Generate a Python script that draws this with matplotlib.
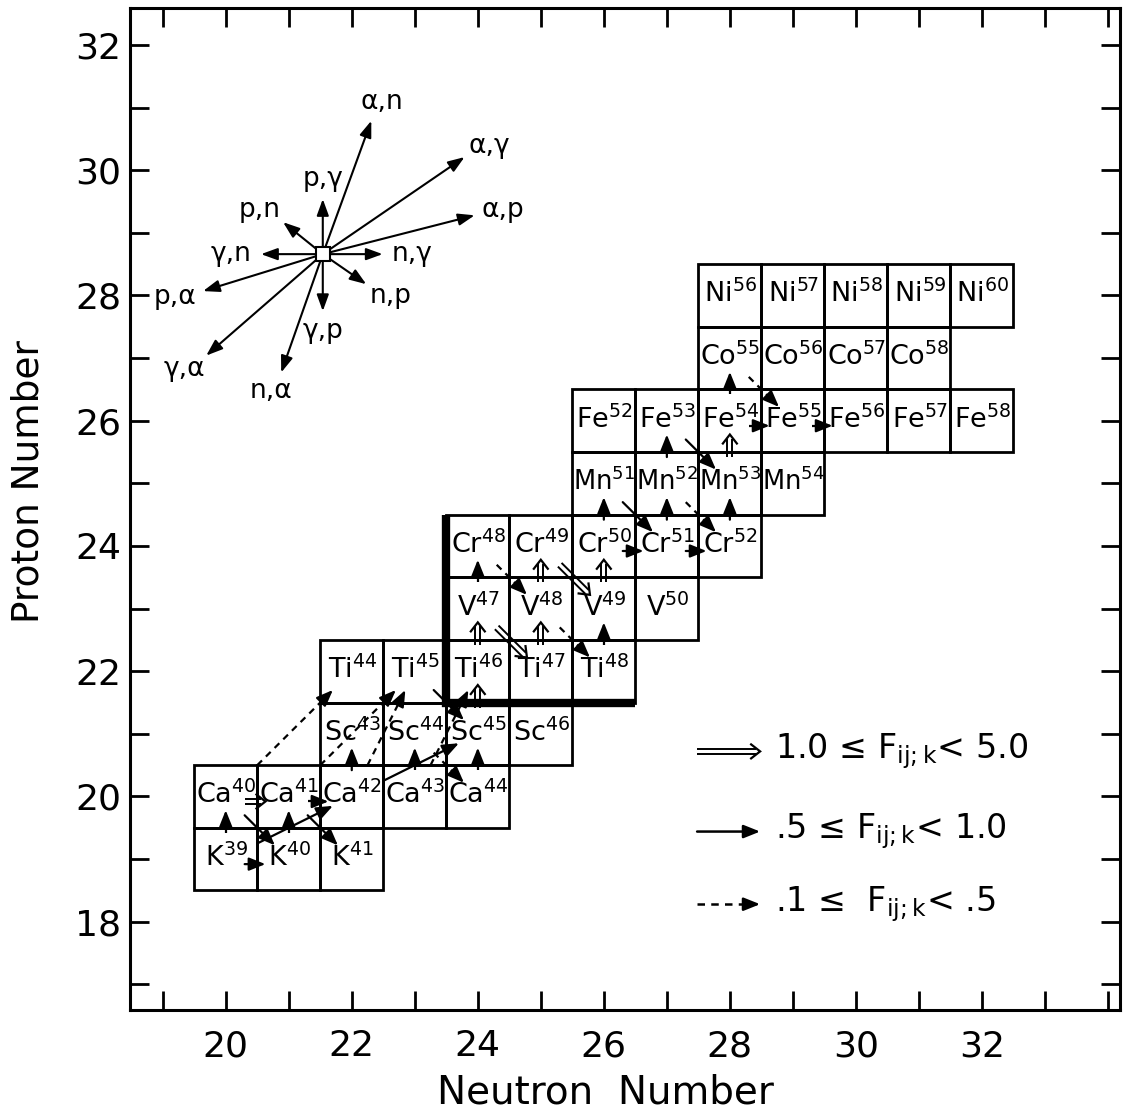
import matplotlib
matplotlib.use("Agg")
import matplotlib.pyplot as plt
import numpy as np
from matplotlib.patches import Rectangle
from matplotlib.ticker import FixedLocator, MultipleLocator

# --- nuclides on the chart (one row per element) ---
ELEMENTS = ["K", "Ca", "Sc", "Ti", "V", "Cr", "Mn", "Fe", "Co", "Ni"]
PROTONS = [19, 20, 21, 22, 23, 24, 25, 26, 27, 28]
FIRST_N = [20, 20, 22, 22, 24, 24, 26, 26, 28, 28]
LAST_N = [22, 24, 25, 26, 27, 28, 29, 32, 31, 32]

# --- flows between nuclides: (N, Z) source -> (N, Z) target, strength class ---
FLOW_FROM = [(20, 19), (21, 19), (20, 19), (20, 20), (21, 20), (20, 19), (20, 20), (21, 20),
             (20, 20), (21, 20), (22, 20), (22, 20), (23, 20), (24, 20), (22, 20), (23, 21),
             (23, 22), (24, 21), (23, 20), (24, 22), (24, 23), (25, 22), (25, 23), (26, 22),
             (24, 23), (24, 24), (25, 23), (25, 24), (26, 23), (26, 24), (26, 24), (26, 25),
             (27, 24), (27, 24), (27, 25), (28, 24), (27, 25), (27, 26), (28, 25), (28, 26),
             (28, 27), (28, 26), (29, 26)]
FLOW_TO = [(20, 20), (21, 20), (21, 19), (21, 20), (22, 20), (22, 20), (21, 19), (22, 19),
           (22, 22), (23, 22), (23, 22), (22, 21), (23, 21), (24, 21), (24, 21), (24, 20),
           (24, 21), (24, 22), (24, 22), (24, 23), (25, 22), (25, 23), (26, 22), (26, 23),
           (24, 24), (25, 23), (25, 24), (26, 23), (26, 24), (26, 25), (27, 24), (27, 24),
           (27, 25), (28, 24), (28, 24), (28, 25), (27, 26), (28, 25), (28, 26), (28, 27),
           (29, 26), (29, 26), (30, 26)]
FLOW_KIND = ["dashed", "dashed", "solid", "double", "dashed", "solid", "solid", "solid",
             "dashed", "dashed", "dashed", "solid", "dashed", "dashed", "solid", "dashed",
             "solid", "double", "dashed", "double", "double", "double", "dashed", "dashed",
             "dashed", "dashed", "double", "double", "double", "solid", "solid", "solid",
             "solid", "solid", "dashed", "solid", "solid", "solid", "double", "dashed",
             "dashed", "dashed", "dashed"]

# --- reaction compass (tip offsets from the centre, in N/Z units) ---
COMPASS_CENTER = (21.54, 28.66)
COMPASS_LABELS = ["α,n", "α,γ", "α,p", "p,γ", "p,n", "γ,n", "n,γ", "n,p", "γ,p", "p,α", "γ,α", "n,α"]
COMPASS_DN = [0.77, 2.25, 2.41, 0.0, -0.63, -0.98, 0.95, 0.69, 0.0, -1.90, -1.85, -0.66]
COMPASS_DZ = [2.13, 1.55, 0.62, 0.88, 0.51, 0.0, 0.0, -0.48, -0.91, -0.59, -1.62, -1.89]

# --- legend ---
LEGEND_KINDS = ["double", "solid", "dashed"]
LEGEND_TEXT = [r"1.0 ≤ F$_{\mathregular{ij;k}}$< 5.0",
               r".5 ≤ F$_{\mathregular{ij;k}}$< 1.0",
               r".1 ≤  F$_{\mathregular{ij;k}}$< .5"]

# boundary of the quasi-equilibrium group
EDGE_N = [23.5, 23.5, 26.5]
EDGE_Z = [24.5, 21.5, 21.5]


def draw_arrow(ax, x0, y0, x1, y1, kind, lw=1.6):
    if kind == "double":
        # two parallel shafts plus an open chevron, built in pixel space
        fwd = ax.transData
        inv = fwd.inverted()
        p0 = fwd.transform((x0, y0))
        p1 = fwd.transform((x1, y1))
        u = (p1 - p0) / np.hypot(*(p1 - p0))
        perp = np.array([-u[1], u[0]])
        for s in (-1, 1):
            a = inv.transform(p0 + s * 2.6 * perp)
            b = inv.transform(p1 - 4 * u + s * 2.6 * perp)
            ax.plot([a[0], b[0]], [a[1], b[1]], color="black", lw=1.4,
                    solid_capstyle="butt", zorder=4)
        head = np.array([p1 - 9 * u + 7 * perp, p1, p1 - 9 * u - 7 * perp])
        head = inv.transform(head)
        ax.plot(head[:, 0], head[:, 1], color="black", lw=1.6,
                solid_joinstyle="miter", zorder=4)
    elif kind == "solid":
        ax.annotate("", xy=(x1, y1), xytext=(x0, y0), zorder=4,
                    arrowprops=dict(arrowstyle="-|>,head_length=0.55,head_width=0.22",
                                    fc="black", ec="black", lw=lw, shrinkA=0, shrinkB=0,
                                    mutation_scale=18))
    else:
        dx, dy = x1 - x0, y1 - y0
        d = np.hypot(dx, dy)
        ux, uy = dx / d, dy / d
        ax.plot([x0, x1 - 0.12 * ux], [y0, y1 - 0.12 * uy], color="black", lw=lw,
                dashes=(3, 2.5), solid_capstyle="butt", zorder=4)
        ax.annotate("", xy=(x1, y1), xytext=(x1 - 0.13 * ux, y1 - 0.13 * uy), zorder=4,
                    arrowprops=dict(arrowstyle="-|>,head_length=0.55,head_width=0.22",
                                    fc="black", ec="black", lw=lw, shrinkA=0, shrinkB=0,
                                    mutation_scale=18))


fig = plt.figure(figsize=(11.34, 11.13), dpi=100)
ax = fig.add_axes([0.1146, 0.0925, 0.873, 0.9003])
ax.set_xlim(18.48, 34.19)
ax.set_ylim(16.59, 32.59)

# nuclide boxes and labels
for el, z, n0, n1 in zip(ELEMENTS, PROTONS, FIRST_N, LAST_N):
    for n in range(n0, n1 + 1):
        ax.add_patch(Rectangle((n - 0.5, z - 0.5), 1, 1, fill=False, ec="black", lw=2, zorder=2))
        ax.text(n + 0.01, z + 0.02, f"{el}$^{{{n + z}}}$", ha="center", va="center",
                fontsize=19.5 if el != "Mn" else 18.5, zorder=3)

ax.plot(EDGE_N, EDGE_Z, color="black", lw=6, solid_capstyle="butt", solid_joinstyle="miter", zorder=3)

# flow arrows
for (sn, sz), (tn, tz), kind in zip(FLOW_FROM, FLOW_TO, FLOW_KIND):
    dn, dz = tn - sn, tz - sz
    shift = 0.0
    if dn == 0:
        t0, t1 = 0.42, 0.78
    elif dz == 0:
        t0, t1 = 0.3, 0.63
        shift = -0.08
    elif abs(dn) == 1 and abs(dz) == 1:
        t0, t1 = 0.3, 0.78
    else:
        t0, t1 = 0.25, 0.85
    draw_arrow(ax, sn + t0 * dn, sz + t0 * dz + shift, sn + t1 * dn, sz + t1 * dz + shift, kind)

# reaction compass
cx, cy = COMPASS_CENTER
for lab, dn, dz in zip(COMPASS_LABELS, COMPASS_DN, COMPASS_DZ):
    ax.annotate("", xy=(cx + dn, cy + dz), xytext=(cx, cy), zorder=4,
                arrowprops=dict(arrowstyle="-|>,head_length=0.55,head_width=0.2",
                                fc="black", ec="black", lw=1.5, shrinkA=0, shrinkB=0,
                                mutation_scale=18))
    d = np.hypot(dn, dz)
    ax.text(cx + dn + 0.47 * dn / d, cy + dz + 0.32 * dz / d, lab,
            ha="center", va="center", fontsize=19, zorder=5)
ax.plot([cx], [cy], marker="s", ms=10, mfc="white", mec="black", mew=1.5, zorder=6)

# legend
for i, (kind, txt) in enumerate(zip(LEGEND_KINDS, LEGEND_TEXT)):
    zrow = [20.72, 19.44, 18.28][i]
    draw_arrow(ax, 27.48, zrow, 28.48, zrow, kind, lw=1.8)
    ax.text(28.72, zrow, txt, ha="left", va="center", fontsize=24)

# axes styling: a tick at every integer, labels on even numbers 18..32
ax.xaxis.set_major_locator(FixedLocator(range(20, 33, 2)))
ax.xaxis.set_minor_locator(MultipleLocator(1))
ax.yaxis.set_major_locator(FixedLocator(range(18, 33, 2)))
ax.yaxis.set_minor_locator(MultipleLocator(1))
ax.tick_params(which="both", direction="in", length=14, width=2, top=True, right=True, labelsize=26)
ax.tick_params(axis="x", which="major", pad=14)
ax.tick_params(axis="y", which="major", pad=6)
for sp in ax.spines.values():
    sp.set_linewidth(2.2)

ax.set_xlabel("Neutron  Number", fontsize=28)
ax.set_ylabel("Proton Number", fontsize=27)
ax.xaxis.set_label_coords(0.48, -0.063)
ax.yaxis.set_label_coords(-0.084, 0.527)

fig.savefig("out.png", dpi=100, facecolor="white")
